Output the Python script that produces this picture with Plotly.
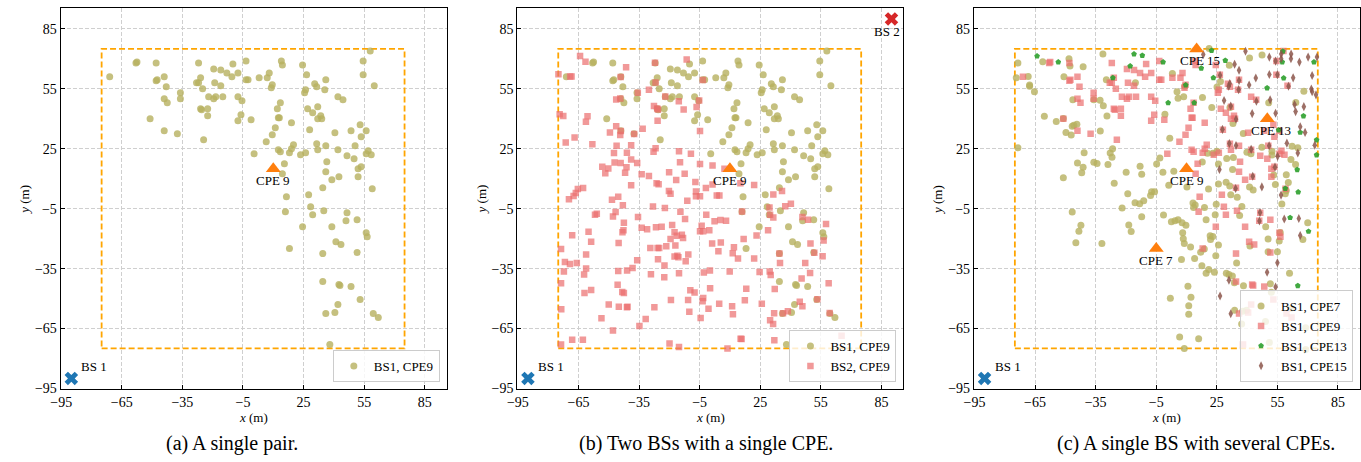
import plotly.graph_objects as go

W, H = 1361, 462
FONT = "Liberation Serif"

# ---------------- data (metres) ----------------
bs1 = (-90, -90)
bs2 = (90, 90)
cpe_positions = {"CPE 7": (-5, -25), "CPE 9": (10, 15), "CPE 13": (50, 40), "CPE 15": (15, 75)}
area_limits = (-75, 75)
tick_values = [-95, -65, -35, -5, 25, 55, 85]
tick_labels = ["\u221295", "\u221265", "\u221235", "\u22125", "25", "55", "85"]
captions = ["(a) A single pair.", "(b) Two BSs with a single CPE.", "(c) A single BS with several CPEs."]

bs1_cpe9 = [(-71, 61), (-58, 68), (-57.5, 68.5), (-48, 68), (-48, 59), (-47.5, 59.5), (-44, 61), (-43, 56),
            (-44, 50), (-42.5, 48), (-51, 40), (-44, 34), (-37.5, 32.5), (-36, 53), (-36, 50), (-27, 68),
            (-26, 60.5), (-28, 58), (-27, 58), (-25, 55), (-22, 51), (-26, 45), (-25.5, 44.5), (-22.5, 45),
            (-22.5, 41.5), (-24.5, 29.5), (-19.5, 65), (-19, 58), (-18.5, 51), (-19.5, 50), (-16, 64.5),
            (-16, 56.5), (-15, 51), (-13, 63), (-10.5, 61), (-10, 67.5), (-7.5, 63), (-7.5, 51), (-5.5, 49),
            (-6, 42), (-7.5, 39), (-3.5, 69), (-3.5, 59.5), (-2.5, 59.5), (-1, 39.5), (0.5, 22.5), (3, 60.5),
            (7, 60.5), (8, 63), (9, 55.5), (9.5, 57), (12, 45), (12.5, 40.5), (13, 40.5), (13.5, 48),
            (11, 35.5), (9.5, 32), (6.5, 28.5), (12.5, 24.5), (13.5, 23.5), (15.5, 17.5), (14.5, 12.5),
            (14, 69), (14.5, 67), (19, 38), (20, 27), (19, 25), (18, 23), (16.5, 1), (16, -6.5), (18, -25),
            (24.5, 67), (26.5, 62), (26, 54.5), (25.5, 53), (27, 45), (29.5, 43), (32, 46), (33.5, 41.5),
            (32, 40), (34, 40), (28, 34.5), (31.5, 27.5), (32, 24.5), (23.5, 22), (26, 23), (30.5, 57.5),
            (31.5, 56), (36, 59.5), (35.5, 54.5), (36, 26.5), (36.5, 18.5), (36, 13.5), (39, 9.5),
            (34.5, 5.5), (27.5, 2), (28.5, -4), (29.5, -8), (35, -6), (24.5, -14), (39, -14), (41, -21.5),
            (43.5, -23), (34.5, -27.5), (40.5, 33), (42, 24.5), (42.5, 11), (42, 51), (44.5, 49.5),
            (46.5, 21.5), (48.5, 34), (50.5, 26.5), (50, 20), (52, 15), (53.5, 16), (52, 11), (53, 37),
            (53.5, 31), (56, 34), (54.5, 69), (54.5, 62), (58, 74), (60, 56.5), (57, 24), (56, 22.5),
            (58.5, 22), (59, 5), (46.5, -7), (46, -11), (51.5, -10.5), (56, -17), (56.5, -19), (51.5, -27),
            (34.5, -41.5), (42.5, -43), (43, -43.5), (48.5, -44), (53, -50.5), (42, -53), (36, -57.5),
            (40.5, -57), (59.5, -57.5), (62, -59.5), (38, -73)]

bs2_cpe9 = [(-64.2, 71.4), (-61.5, 68.6), (-74.9, 62.3), (-69.1, 61.2), (-68.4, 61.2), (-44.1, 60.9),
            (-41.4, 65.8), (-27.1, 68.1), (-11.4, 69.7), (-30.1, 54.6), (-35.6, 53.1), (-26.8, 58.2),
            (-22.0, 51.2), (-15.3, 48.8), (-5.2, 49.2), (-3.4, 59.4), (-6.5, 45.9), (-12.9, 44.7),
            (-27.6, 46.4), (-26.0, 45.1), (-25.6, 44.6), (-25.8, 39.0), (-46.3, 49.7), (-44.3, 50.2),
            (-74.3, 42.3), (-72.5, 41.4), (-60.5, 41.3), (-61.3, 38.5), (-71.3, 28.1), (-66.9, 30.6),
            (-58.1, 27.3), (-49.4, 33.1), (-46.3, 36.3), (-44.0, 33.9), (-44.3, 31.9), (-37.4, 32.4),
            (-33.2, 35.0), (-38.9, 26.8), (-46.1, 26.5), (-47.4, 22.9), (-41.0, 23.0), (-38.9, 19.6),
            (-35.9, 17.9), (-47.1, 18.1), (-44.1, 17.9), (-41.2, 15.8), (-41.9, 13.0), (-53.2, 16.0),
            (-50.2, 15.1), (-51.7, 12.7), (-27.8, 23.5), (-26.8, 25.2), (-33.7, 12.2), (-30.1, 11.3),
            (-15.2, 23.7), (-14.7, 18.3), (-9.3, 22.5), (-4.8, 17.4), (1.4, 16.6), (7.3, 15.0), (-4.8, 33.9),
            (-20.1, 13.2), (-12.4, 12.5), (-26.3, 7.7), (-25.3, 7.2), (-16.6, 9.4), (-7.1, 8.4), (-1.9, 5.4),
            (1.4, 7.1), (-38.9, 6.7), (-62.7, 5.4), (-65.3, 4.9), (-66.3, 2.8), (-67.4, 1.3), (-69.7, -0.3),
            (-20.2, 3.9), (-19.4, 2.5), (-6.8, 3.6), (-6.8, 1.2), (-4.8, 1.2), (-11.1, -1.0), (3.5, 1.6),
            (4.8, 1.6), (15.2, 7.7), (22.0, 6.9), (35.8, 3.8), (31.5, 2.1), (40.2, -2.5), (37.4, -3.8),
            (29.6, -4.4), (29.9, -8.1), (31.5, -9.4), (16.0, -6.4), (-1.7, -8.1), (2.4, -11.3), (5.3, -10.7),
            (8.1, -11.0), (-48.4, -0.5), (-45.3, 1.0), (-43.0, -3.3), (-28.1, -3.9), (-22.2, -4.6),
            (-14.5, -6.6), (-12.2, -10.2), (-47.9, -8.9), (-46.6, -6.7), (-55.9, -7.6), (-56.8, -8.1),
            (-35.5, -9.2), (-42.5, -12.0), (-42.7, -15.8), (-43.2, -16.8), (-33.7, -14.5), (-31.0, -15.3),
            (-26.6, -14.3), (-23.8, -14.0), (-18.6, -13.2), (-4.0, -13.5), (-3.2, -16.3), (-0.2, -15.8),
            (-4.8, -16.3), (-17.4, -16.8), (-16.3, -18.6), (-13.8, -18.1), (-13.2, -19.7), (-19.4, -20.2),
            (-17.0, -23.4), (-21.5, -23.8), (-29.4, -24.7), (-25.8, -24.7), (-25.0, -24.7), (-45.1, -22.2),
            (-60.0, -16.6), (-58.7, -21.5), (-68.1, -18.3), (-73.6, -25.2), (-61.2, -28.0), (-65.8, -32.2),
            (-71.7, -31.7), (-69.2, -32.7), (-72.2, -36.5), (-73.6, -42.3), (-73.5, -55.4), (-73.6, -73.0),
            (-68.1, -70.6), (-62.8, -70.6), (-62.0, -47.2), (-58.7, -45.7), (-61.2, -34.9), (-62.2, -38.0),
            (-45.3, -36.2), (-40.9, -35.9), (-38.2, -34.7), (-35.9, -30.8), (-45.6, -43.1), (-43.3, -46.7),
            (-42.5, -47.2), (-50.0, -53.0), (-45.0, -54.1), (-40.7, -54.1), (-41.0, -54.4), (-47.9, -66.0),
            (-53.6, -59.9), (-27.4, -54.3), (-29.1, -37.8), (-25.6, -30.3), (-22.4, -33.4), (-22.5, -39.3),
            (-17.4, -28.9), (-16.0, -28.6), (-15.5, -29.3), (-10.6, -28.0), (-11.9, -31.3), (-15.2, -37.3),
            (-19.2, -50.7), (-10.7, -50.7), (-9.6, -45.9), (-7.5, -47.0), (-3.2, -49.7), (-3.5, -51.3),
            (-0.6, -55.1), (-10.1, -56.6), (-4.5, -59.7), (-31.7, -60.2), (-34.8, -63.7), (-19.9, -72.5),
            (-15.2, -74.3), (-2.9, -37.0), (0.1, -35.9), (0.2, -44.9), (4.7, -52.6), (1.2, -22.4),
            (5.5, -21.9), (4.3, -26.3), (11.4, -27.3), (12.0, -24.3), (16.8, -20.2), (14.0, -29.9),
            (9.9, -36.5), (11.1, -53.8), (11.5, -57.9), (18.1, -45.1), (17.4, -50.8), (15.3, -70.1),
            (15.8, -70.2), (8.8, -75.0), (23.2, -18.4), (22.0, -29.9), (24.7, -36.7), (25.8, -52.6),
            (29.7, -36.5), (30.2, -38.2), (32.2, -45.2), (34.5, -27.5), (34.8, -32.2), (28.9, -15.8),
            (29.9, -60.9), (31.4, -62.7), (31.9, -57.4), (32.0, -70.9), (36.3, -57.4), (38.7, -56.4),
            (44.6, -51.6), (45.9, -53.8), (45.5, -40.0), (47.3, -32.2), (49.7, -37.2), (49.9, -22.5),
            (51.8, -27.1), (55.9, -28.8), (56.4, -20.9), (57.6, -12.7), (58.9, -42.4), (59.4, -57.2),
            (65.3, -68.6), (53.3, -50.3), (45.9, -9.2), (48.7, -10.5)]

bs1_cpe7 = [(-73.5, 67.9), (-74.3, 60.5), (-73.5, 25.5), (-68.4, 61.2), (-67.7, 56.9), (-67.7, 56.3),
            (-65.3, 53.5), (-61.2, 68.6), (-60.4, 41.3), (-54.5, 38.7), (-51.0, 40.1), (-51.0, 10.5),
            (-48.2, 70.1), (-47.7, 66.4), (-50.7, 61.0), (-49.7, 33.2), (-47.1, 31.9), (-46.6, 36.3),
            (-45.8, 36.8), (-44.3, 37.3), (-46.3, 49.5), (-46.6, -6.7), (-41.2, 66.1), (-40.7, 23.0),
            (-41.2, 15.8), (-41.9, 13.0), (-44.0, 17.9), (-42.3, -13.3), (-43.3, -16.3), (-44.8, -22.0),
            (-35.9, 49.5), (-35.9, 18.3), (-34.3, 17.6), (-32.8, 49.3), (-31.2, 46.5), (-29.4, 41.4),
            (-31.4, 72.5), (-29.7, 59.5), (-32.7, 33.9), (-31.9, -22.5), (-28.9, 17.1), (-27.8, 22.9),
            (-26.9, 20.7), (-26.6, 25.0), (-25.8, 7.7), (-19.9, 13.3), (-19.1, 2.5), (-18.6, -13.2),
            (-17.4, -16.4), (-21.9, -4.6), (-15.3, 58.1), (-15.5, -2.0), (-13.2, -2.5), (-13.0, 16.3),
            (-12.2, 12.3), (-11.2, -1.0), (-12.2, -9.0), (-7.3, 3.5), (-5.8, 3.5), (-7.8, 1.6), (-4.8, 17.4),
            (-3.2, 20.4), (-1.7, 13.3), (-1.4, -8.2), (-0.7, 42.3), (1.2, 6.7), (2.5, -11.5), (3.0, 62.7),
            (1.7, 30.3), (3.7, 13.8), (4.3, -11.0), (5.8, -10.5), (5.3, 53.6), (5.8, 50.3), (7.8, -12.0),
            (9.7, -13.3), (8.6, 51.0), (10.2, 5.8), (9.1, 56.3), (8.1, -17.1), (8.4, -20.1), (8.9, -22.5),
            (7.5, -30.4), (12.0, -24.2), (14.0, -29.9), (10.7, -43.8), (12.2, -49.3), (11.1, -53.6),
            (11.1, -57.9), (2.0, -49.8), (6.6, -69.2), (8.9, -75.0), (16.0, -70.1), (13.2, -2.1),
            (13.5, -4.4), (14.3, -3.1), (18.9, -4.4), (17.9, 50.7), (22.5, 45.6), (20.4, 22.7), (23.0, 22.7),
            (19.7, -10.5), (20.9, 4.8), (24.2, -8.1), (24.7, -2.8), (21.7, -18.6), (23.0, -18.9),
            (21.9, -20.4), (25.8, -23.2), (24.5, -28.6), (23.8, -36.8), (19.7, -37.3), (17.6, -33.6),
            (17.0, -26.8), (18.8, -25.2), (21.0, -35.5), (17.8, 18.4), (25.1, 23.7), (25.8, 7.4),
            (25.8, 17.4), (32.8, 14.6), (31.4, 6.4), (31.9, 2.0), (29.6, 8.2), (35.1, 0.7), (37.4, -3.9),
            (36.3, -8.4), (34.8, -32.2), (31.0, -38.0), (29.7, -37.3), (32.7, -38.7), (33.7, -42.1),
            (33.8, -55.9), (38.2, -43.6), (37.8, -56.4), (37.3, -62.7), (39.7, -55.9), (41.4, -23.7),
            (39.9, 23.2), (41.9, 22.5), (41.2, 5.8), (43.0, 4.4), (47.3, 25.8), (49.2, -14.1), (50.4, -20.2),
            (51.5, -42.6), (52.0, -46.9), (50.4, -26.6), (49.1, -61.5), (51.0, -72.0), (55.0, -26.6),
            (55.9, -21.2), (56.4, -16.9), (57.2, -2.6), (58.9, 2.5), (59.4, 12.0), (60.4, 8.1), (61.7, 19.6),
            (62.3, 26.2), (64.0, 17.1), (65.1, 25.5), (64.1, 48.2), (68.1, 53.8), (67.6, -20.4),
            (70.0, -12.0), (69.0, -64.6), (69.0, -75.5), (61.0, -37.3), (61.7, -54.8), (54.0, 7.1),
            (52.3, 21.9), (50.7, 48.0), (31.2, 66.8), (26.8, 58.7), (25.1, 55.9), (31.5, 45.6), (33.0, 37.7),
            (38.1, 32.7), (41.2, 70.4), (47.4, 71.9), (52.3, 23.7), (53.2, 11.8), (59.4, 4.1), (33.2, 20.6),
            (29.9, 20.1), (21.2, 75.2)]

bs1_cpe13 = [(-64.0, 71.4), (-53.5, 68.4), (-26.5, 60.5), (-17.9, 66.4), (-16.0, 72.4), (-11.9, 71.7),
             (-1.6, 68.4), (0.9, 48.0), (9.6, 56.9), (13.8, 48.0), (17.3, 65.3), (22.4, 74.2), (23.3, 60.5),
             (29.2, 69.2), (49.9, 55.4), (57.4, 68.4), (58.1, 60.4), (66.3, 33.2), (67.9, 41.4), (73.1, 68.4),
             (74.4, 29.4), (74.4, 21.9), (64.8, 14.5), (58.9, 5.1), (65.3, 3.3), (61.3, -9.5), (70.4, -16.4),
             (65.1, -43.6), (55.6, 34.4), (57.7, 73.8)]

bs1_cpe15 = [(18.3, 72.2), (33.8, 67.3), (36.0, 64.3), (39.2, 73.8), (26.6, 61.8), (31.4, 57.7), (30.9, 56.3),
             (36.0, 59.2), (35.8, 54.6), (41.0, 56.9), (44.3, 60.4), (51.0, 62.2), (51.0, 70.9), (54.1, 68.9),
             (55.0, 62.0), (56.9, 72.4), (56.9, 70.1), (61.8, 72.4), (61.7, 70.1), (65.9, 68.4), (70.2, 70.9),
             (74.6, 70.9), (62.8, 60.5), (60.5, 56.3), (72.2, 61.7), (71.8, 54.9), (72.2, 53.6), (74.1, 52.0),
             (28.6, 49.2), (31.9, 46.4), (34.5, 39.8), (42.5, 42.6), (44.6, 48.8), (51.4, 49.5), (54.1, 42.8),
             (63.5, 47.2), (68.1, 46.1), (64.0, 43.6), (66.3, 36.0), (68.7, 33.2), (27.8, 34.7), (31.2, 27.6),
             (34.5, 26.6), (42.0, 24.7), (50.9, 26.5), (55.1, 21.2), (59.7, 27.8), (65.1, 22.9), (73.5, 26.8),
             (26.3, 14.6), (42.8, 11.2), (47.3, 5.9), (53.8, 15.8), (56.8, 1.8), (34.3, 5.1), (46.4, -6.9),
             (46.1, -11.2), (58.4, -10.2), (65.6, -9.9), (66.3, -18.4), (55.0, -32.1), (49.9, -36.8),
             (54.1, -44.2), (31.0, -40.8), (26.6, -48.7), (31.9, -57.6)]

# ---------------- styles ----------------
OLIVE = "rgba(183,176,95,0.8)"
SALMON = "rgba(235,110,110,0.7)"
GREEN = "rgba(44,160,44,0.9)"
BROWN = "rgba(140,86,75,0.85)"

def xs(pts):
    return [p[0] for p in pts]

def ys(pts):
    return [p[1] for p in pts]

fig = go.Figure()

panel_left_px = [51, 511, 971]
panel_w_px = 389
top_px, bottom_px = 8.3, 395

panels = [
    {"series": [("BS1, CPE9", bs1_cpe9, "circle", 7, OLIVE)], "cpes": ["CPE 9"], "bs2": False},
    {"series": [("BS1, CPE9", bs1_cpe9, "circle", 7, OLIVE), ("BS2, CPE9", bs2_cpe9, "square", 6.5, SALMON)],
     "cpes": ["CPE 9"], "bs2": True},
    {"series": [("BS1, CPE7", bs1_cpe7, "circle", 7, OLIVE), ("BS1, CPE9", bs1_cpe9, "square", 6.5, SALMON),
                ("BS1, CPE13", bs1_cpe13, "pentagon", 6, GREEN), ("BS1, CPE15", bs1_cpe15, "diamond-tall", 6.5, BROWN)],
     "cpes": ["CPE 7", "CPE 9", "CPE 13", "CPE 15"], "bs2": False},
]
label_xshift = {"CPE 7": 0, "CPE 9": 0, "CPE 13": 4, "CPE 15": 3}

annotations = []
shapes = []
layout_axes = {}
TXT = dict(family=FONT, size=13, color="black")
TICK = dict(family=FONT, size=14, color="black")

for i, panel in enumerate(panels):
    k = "" if i == 0 else str(i + 1)
    xa, ya = "x" + k, "y" + k
    leg = "legend" + k
    for name, pts, sym, size, col in panel["series"]:
        fig.add_trace(go.Scatter(x=xs(pts), y=ys(pts), mode="markers", name=name, xaxis=xa, yaxis=ya,
                                 legend=leg, marker=dict(symbol=sym, size=size, color=col, line=dict(width=0))))
    # CPE triangles
    cx = [cpe_positions[c][0] for c in panel["cpes"]]
    cy = [cpe_positions[c][1] for c in panel["cpes"]]
    fig.add_trace(go.Scatter(x=cx, y=cy, mode="markers", showlegend=False, xaxis=xa, yaxis=ya,
                             marker=dict(symbol="triangle-up", size=13, color="#ff7f0e", line=dict(width=0))))
    for c in panel["cpes"]:
        annotations.append(dict(x=cpe_positions[c][0], y=cpe_positions[c][1], xref=xa, yref=ya, text=c,
                                showarrow=False, yshift=-12, xshift=label_xshift[c], xanchor="center",
                                yanchor="middle", font=TXT))
    # BSs
    fig.add_trace(go.Scatter(x=[bs1[0]], y=[bs1[1]], mode="markers", showlegend=False, xaxis=xa, yaxis=ya,
                             marker=dict(symbol="x", size=12, color="#1f77b4", line=dict(width=0))))
    annotations.append(dict(x=bs1[0] + 4, y=bs1[1] + 6, xref=xa, yref=ya, text="BS 1", showarrow=False,
                            xanchor="left", yanchor="middle", font=TXT))
    if panel["bs2"]:
        fig.add_trace(go.Scatter(x=[bs2[0]], y=[bs2[1]], mode="markers", showlegend=False, xaxis=xa, yaxis=ya,
                                 marker=dict(symbol="x", size=12, color="#d62728", line=dict(width=0))))
        annotations.append(dict(x=bs2[0] - 2, y=bs2[1] - 6.5, xref=xa, yref=ya, text="BS 2", showarrow=False,
                                xanchor="center", yanchor="middle", font=TXT))
    # surveyed area
    shapes.append(dict(type="rect", xref=xa, yref=ya, x0=area_limits[0], x1=area_limits[1],
                       y0=area_limits[0], y1=area_limits[1], line=dict(color="#ffa500", width=1.8, dash="6px,3px"),
                       layer="between"))
    left = panel_left_px[i]
    right = left + panel_w_px
    axis_common = dict(showline=True, mirror=True, linecolor="black", linewidth=1, ticks="inside", ticklen=4,
                       tickcolor="black", tickvals=tick_values, ticktext=tick_labels, showgrid=True,
                       gridcolor="#cfcfcf", griddash="4px,2px", gridwidth=0.8, zeroline=False,
                       tickfont=TICK)
    layout_axes["xaxis" + k] = dict(axis_common, domain=[left / W, right / W], range=[-95.3, 95.9],
                                    anchor=ya)
    layout_axes["yaxis" + k] = dict(axis_common, domain=[1 - bottom_px / H, 1 - top_px / H],
                                    range=[-95.3, 95.4], anchor=xa)
    layout_axes[leg] = dict(x=(right - 7) / W, y=1 - 388 / H, xanchor="right", yanchor="bottom",
                            xref="paper", yref="paper", bgcolor="rgba(255,255,255,0.8)",
                            bordercolor="#cccccc", borderwidth=1, tracegroupgap=0,
                            font=dict(family=FONT, size=13, color="black"))
    # axis titles
    annotations.append(dict(x=(left + right) / 2 / W, y=1 - 424 / H, xref="paper", yref="paper",
                            text="<i>x</i> (m)", showarrow=False, xanchor="center", yanchor="middle",
                            font=TXT))
    annotations.append(dict(x=(left - 36) / W, y=1 - 203 / H, xref="paper", yref="paper",
                            text="<i>y</i> (m)", showarrow=False, textangle=-90, xanchor="center",
                            yanchor="middle", font=TXT))

caption_centers = [224, 701, 1195]
for c, cxp in zip(captions, caption_centers):
    annotations.append(dict(x=cxp / W, y=1 - 450 / H, xref="paper", yref="paper", text=c, showarrow=False,
                            xanchor="center", yanchor="middle", font=dict(family=FONT, size=20, color="black")))

fig.update_layout(width=W, height=H, margin=dict(l=0, r=0, t=0, b=0), paper_bgcolor="white",
                  plot_bgcolor="white", annotations=annotations, shapes=shapes,
                  font=dict(family=FONT, color="black"), **layout_axes)

fig.write_html("out.html")
